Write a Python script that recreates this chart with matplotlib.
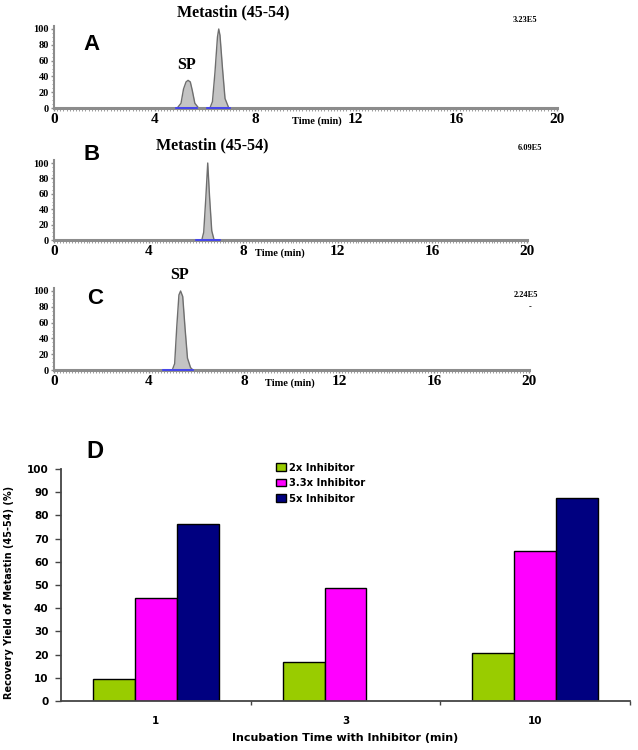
import numpy as np
import matplotlib
matplotlib.use('Agg')
import matplotlib.pyplot as plt
from matplotlib.ticker import MultipleLocator

# chromatogram traces (time in min, relative abundance %)
a_time = [0, 4.9, 5.05, 5.15, 5.25, 5.33, 5.42, 5.5, 5.6, 5.75,
          6.2, 6.3, 6.4, 6.5, 6.55, 6.6, 6.7, 6.8, 6.95, 20]
a_signal = [0, 0, 6, 24, 33, 35, 33, 22, 6, 0,
            0, 8, 45, 90, 100, 92, 50, 12, 0, 0]
b_time = [0, 6.25, 6.33, 6.42, 6.5, 6.58, 6.67, 6.77, 20]
b_signal = [0, 0, 10, 55, 100, 55, 12, 0, 0]
c_time = [0, 4.98, 5.08, 5.17, 5.26, 5.33, 5.42, 5.52, 5.62, 5.75, 5.85, 20]
c_signal = [0, 0, 8, 55, 95, 100, 93, 52, 15, 3, 0, 0]

# integration baselines (blue)
a_base = [(4.85, 5.7), (6.1, 7.0)]
b_base = [(6.0, 7.0)]
c_base = [(4.6, 5.85)]

time_ticks = [0, 4, 8, 12, 16, 20]
abund_ticks = [0, 20, 40, 60, 80, 100]

# panel D data
incubation = ['1', '3', '10']
series_names = ['2x Inhibitor', '3.3x Inhibitor', '5x Inhibitor']
inhib_2x = [9.5, 16.8, 20.5]
inhib_33x = [44.5, 48.7, 64.7]
inhib_5x = [76.2, np.nan, 87.4]
bar_colors = ['#99cc00', '#ff00ff', '#000080']

W, H = 638, 750
fig = plt.figure(figsize=(W / 100, H / 100), dpi=100)


def fx(px):
    return px / W


def fy(py):
    return 1 - py / H


def chrom_axes(x0, x20, y0, y100, ymax=104):
    unit = (y0 - y100) / 100
    top = y0 - ymax * unit
    return fig.add_axes([fx(x0), fy(y0), (x20 - x0) / W, (y0 - top) / H])


serif = 'Liberation Serif'
grey = '#8c8c8c'

chrom = [
    (a_time, a_signal, a_base, (54, 557, 108, 29), 317, 'A', (92, 44), '3.23E5', (525, 20)),
    (b_time, b_signal, b_base, (54, 527, 240, 163), 280, 'B', (92, 155), '6.09E5', (530, 148)),
    (c_time, c_signal, c_base, (54, 529, 370, 291), 290, 'C', (95, 298), '2.24E5', (526, 295)),
]

for t, s, bases, geom, tx, letter, lpos, scale, spos in chrom:
    ax = chrom_axes(*geom)
    ax.fill_between(t, s, 0, color='#c4c4c4', lw=0, clip_on=False)
    ax.plot(t, s, color='#6e6e6e', lw=1.0, clip_on=False)
    for b0, b1 in bases:
        ax.plot([b0, b1], [0, 0], color='#3a3aff', lw=1.2, clip_on=False, zorder=5)
    ax.set_xlim(0, 20)
    ax.set_ylim(0, 104)
    for sp in ['top', 'right']:
        ax.spines[sp].set_visible(False)
    ax.spines['bottom'].set_color(grey)
    ax.spines['bottom'].set_linewidth(2.2)
    ax.spines['left'].set_color(grey)
    ax.spines['left'].set_linewidth(1.5)
    ax.set_xticks(time_ticks)
    ax.set_xticklabels([str(v) for v in time_ticks], fontfamily=serif,
                       fontweight='bold', fontsize=11)
    ax.xaxis.set_minor_locator(MultipleLocator(0.125))
    ax.tick_params(axis='x', which='major', length=2.5, width=1, color=grey, pad=1)
    ax.tick_params(axis='x', which='minor', length=1.8, width=0.6, color=grey)
    ax.set_yticks(abund_ticks)
    ax.set_yticklabels([str(v) for v in abund_ticks], fontfamily=serif,
                       fontweight='bold', fontsize=7.5)
    ax.yaxis.set_minor_locator(MultipleLocator(5))
    ax.tick_params(axis='y', which='major', length=2.5, width=1, color=grey, pad=1)
    ax.tick_params(axis='y', which='minor', length=1.5, width=0.6, color=grey)
    ax.patch.set_visible(False)

    y_lab = geom[2] + 13
    fig.text(fx(tx), fy(y_lab), 'Time (min)', fontfamily=serif, fontweight='bold',
             fontsize=7.5, ha='center', va='center')
    fig.text(fx(lpos[0]), fy(lpos[1]), letter, fontfamily='Liberation Sans',
             fontweight='bold', fontsize=16, ha='center', va='center')
    fig.text(fx(spos[0]), fy(spos[1]), scale, fontfamily=serif, fontweight='bold',
             fontsize=6, ha='center', va='center')

fig.text(fx(233), fy(12), 'Metastin (45-54)', fontfamily=serif, fontweight='bold',
         fontsize=11.5, ha='center', va='center')
fig.text(fx(187), fy(65), 'SP', fontfamily=serif, fontweight='bold',
         fontsize=11.5, ha='center', va='center')
fig.text(fx(212), fy(145), 'Metastin (45-54)', fontfamily=serif, fontweight='bold',
         fontsize=11.5, ha='center', va='center')
fig.text(fx(180), fy(275), 'SP', fontfamily=serif, fontweight='bold',
         fontsize=11.5, ha='center', va='center')
fig.text(fx(530), fy(307), '-', fontfamily=serif, fontweight='bold',
         fontsize=6, ha='center', va='center')

# panel D: grouped bars
axd = fig.add_axes([fx(61), fy(701), (630 - 61) / W, (701 - 469) / H])
x = np.arange(len(incubation))
width = 0.221
for i, (vals, name, col) in enumerate(zip([inhib_2x, inhib_33x, inhib_5x],
                                           series_names, bar_colors)):
    axd.bar(x + (i - 1) * width, vals, width, color=col, edgecolor='black',
            linewidth=1.0, label=name)

axd.set_xlim(-0.5, 2.5)
axd.set_ylim(0, 100)
axd.set_yticks(np.arange(0, 101, 10))
axd.set_xticks(x)
axd.set_xticklabels(incubation)
axd.set_xticks([0.5, 1.5, 2.5], minor=True)
axd.tick_params(axis='x', which='major', length=0, pad=11, labelsize=7.5)
axd.tick_params(axis='x', which='minor', length=3, width=1, color='#444444')
axd.tick_params(axis='y', length=4, width=1, color='#444444', pad=5, labelsize=7.5)
for lab in axd.get_xticklabels() + axd.get_yticklabels():
    lab.set_fontweight('bold')
for sp in ['top', 'right']:
    axd.spines[sp].set_visible(False)
for sp in ['left', 'bottom']:
    axd.spines[sp].set_color('#444444')
    axd.spines[sp].set_linewidth(1.3)

axd.set_xlabel('Incubation Time with Inhibitor (min)', fontsize=8,
               fontweight='bold')
axd.xaxis.set_label_coords((345 - 61) / (630 - 61), -0.14)
axd.set_ylabel('Recovery Yield of Metastin (45-54) (%)', fontsize=7,
               fontweight='bold')
axd.yaxis.set_label_coords(-0.083, 0.47)

axd.legend(loc='upper left', bbox_to_anchor=(0.37, 1.045), frameon=False,
           prop={'weight': 'bold', 'size': 7.2},
           handlelength=1.0, handleheight=0.8, handletextpad=0.3,
           labelspacing=0.55, borderaxespad=0)

fig.text(fx(95), fy(451), 'D', fontfamily='Liberation Sans', fontweight='bold',
         fontsize=17, ha='center', va='center')

fig.savefig('out.png', dpi=100)
